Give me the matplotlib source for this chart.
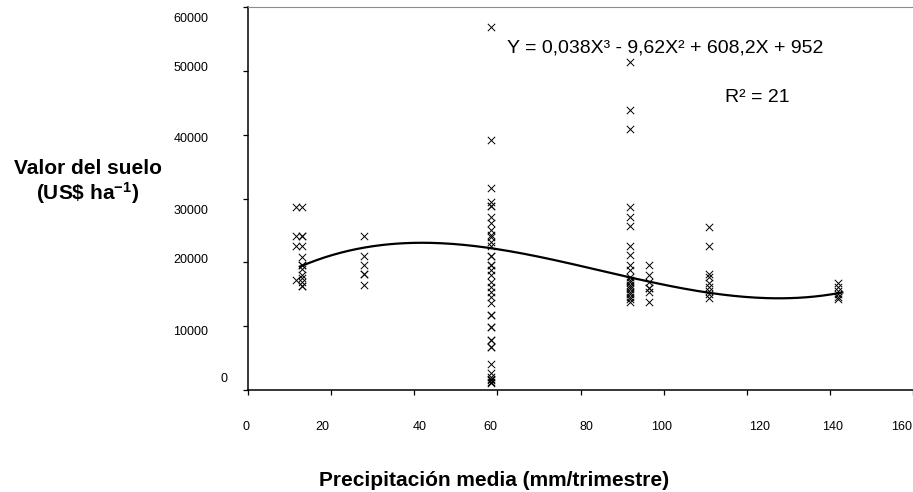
import numpy as np
import matplotlib
matplotlib.use("Agg")
import matplotlib.pyplot as plt
from matplotlib.transforms import ScaledTranslation

plt.rcParams['font.family'] = ['Liberation Sans', 'DejaVu Sans']
plt.rcParams['mathtext.fontset'] = 'custom'
plt.rcParams['mathtext.rm'] = 'Liberation Sans'
plt.rcParams['mathtext.bf'] = 'Liberation Sans:bold'
plt.rcParams['mathtext.it'] = 'Liberation Sans:italic'

# precipitation groups (mm/trimestre) and land values (US$/ha)
precip_groups = [11.5, 13, 28, 58.5, 92, 96.5, 111, 142]
valor_115 = [28600, 24100, 22560, 17230]
valor_13 = [28600, 24100, 24100, 22560, 20880, 19580, 19580, 18900, 18000,
            17500, 16970, 16290, 16290]
valor_28 = [24100, 21000, 19580, 18170, 18170, 16450]
valor_59 = [56800, 39170, 31700, 29500, 28830, 28830, 27150, 26110, 25070,
            24280, 23920, 23230, 22560, 20990, 20990, 19580, 19580, 18800,
            18020, 16970, 16190, 15400, 14620, 13580, 11750, 11750, 9920,
            9920, 7830, 7830, 6790, 6790, 4020, 2610, 2090, 1800, 1570,
            1300, 1050]
valor_92 = [51440, 43870, 40890, 28620, 27150, 25690, 22560, 21150, 19580,
            18800, 17750, 17200, 16970, 16500, 16190, 15800, 15400, 15000,
            14620, 14200, 13830]
valor_97 = [19580, 18020, 16970, 15930, 15930, 15400, 13830]
valor_111 = [25590, 22610, 18170, 17650, 16710, 16090, 15560, 15040, 14460]
valor_142 = [16710, 16090, 15560, 15040, 14520, 14200]
valor_groups = [valor_115, valor_13, valor_28, valor_59, valor_92,
                valor_97, valor_111, valor_142]

# trend line as drawn in the picture (cubic)
curve_x = [12.5, 28, 42, 59, 70, 92, 97, 111, 126, 143]
curve_y = [19300, 22350, 23080, 22200, 20700, 17750, 16970, 15150, 14360, 15300]

x_ticks = [0, 20, 40, 60, 80, 100, 120, 140, 160]
y_ticks = [0, 10000, 20000, 30000, 40000, 50000, 60000]

equation = "Y = 0,038X³ - 9,62X² + 608,2X + 952"
r2_text = "R² = 21"

xs = np.concatenate([[g] * len(v) for g, v in zip(precip_groups, valor_groups)])
ys = np.concatenate(valor_groups)

fig = plt.figure(figsize=(9.13, 4.92), dpi=100)
W, H = 913, 492
ax = fig.add_axes([248 / W, 1 - 390 / H, (913 - 248) / W, (390 - 7) / H])

ax.scatter(xs, ys, marker='x', s=28, color='black', linewidths=0.7, zorder=3)

coef = np.polyfit(curve_x, curve_y, 3)
cx = np.linspace(min(curve_x), max(curve_x), 200)
ax.plot(cx, np.polyval(coef, cx), color='black', lw=1.6, zorder=4)

ax.set_xlim(0, 160)
ax.set_ylim(0, 60000)
ax.set_xticks(x_ticks)
ax.set_yticks(y_ticks)
ax.set_xticklabels([str(t) for t in x_ticks])
ax.set_yticklabels([str(t) for t in y_ticks])
ax.tick_params(axis='both', direction='out', length=3.6, width=0.9,
               labelsize=9, color='black')
ax.tick_params(axis='x', pad=18.5)
ax.tick_params(axis='y', pad=25)

for s in ['left', 'bottom']:
    ax.spines[s].set_linewidth(1.1)
    ax.spines[s].set_color('black')
ax.spines['top'].set_color('#8c8c8c')
ax.spines['top'].set_linewidth(0.8)
ax.spines['right'].set_visible(False)

# the labels in the original are a little off their ticks
x_shift = [-2, -9, 5, -7, 6, -2, 13, 3, -11]
for lab, dx in zip(ax.get_xticklabels(), x_shift):
    lab.set_transform(lab.get_transform() + ScaledTranslation(dx / 100, 0, fig.dpi_scale_trans))
y_shift = [(19, 12), (0, -4), (0, 4), (0, -11), (0, -3), (0, 4), (0, -11)]
for lab, (dx, dy) in zip(ax.get_yticklabels(), y_shift):
    lab.set_transform(lab.get_transform() + ScaledTranslation(dx / 100, dy / 100, fig.dpi_scale_trans))

ax.text(62.4, 53580, equation, fontsize=14, ha='left', va='center')
ax.text(114.7, 45900, r2_text, fontsize=14, ha='left', va='center')

fig.text(88 / W, 1 - 168 / H, "Valor del suelo", fontsize=15, fontweight='bold',
         ha='center', va='center')
fig.text(88 / W, 1 - 193 / H, r"(US\$ ha$^{\mathbf{-1}}$)", fontsize=15,
         fontweight='bold', ha='center', va='center')
fig.text(494 / W, 1 - 480 / H, "Precipitación media (mm/trimestre)", fontsize=15,
         fontweight='bold', ha='center', va='center')

fig.savefig("out.png", dpi=100)
